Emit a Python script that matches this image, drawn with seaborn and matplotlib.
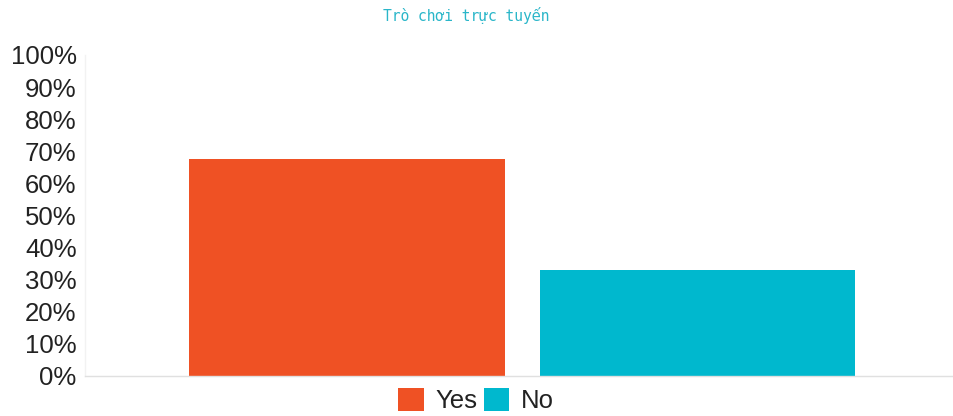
import matplotlib
matplotlib.use("Agg")
import matplotlib.pyplot as plt
import seaborn as sns
import pandas as pd
from matplotlib.ticker import PercentFormatter

# Survey answers for the online-games question
categories = ["Trò chơi trực tuyến"]
answers = ["Yes", "No"]
shares = [67.7, 33.0]
colors = ["#EF5124", "#00B8CE"]
y_ticks = list(range(0, 101, 10))

df = pd.DataFrame({"q": categories * len(answers), "answer": answers, "share": shares})

sns.set_theme(style="white")
plt.rcParams["font.family"] = ["Liberation Sans", "DejaVu Sans"]

fig = plt.figure(figsize=(9.54, 4.16), dpi=100)
ax = fig.add_axes([0.0891, 0.0962, 0.9099, 0.7716])

sns.barplot(data=df, x="q", y="share", hue="answer", hue_order=answers,
            palette=colors, width=0.807, gap=0.1, ax=ax, legend=False,
            saturation=1, linewidth=0)

ax.set_xlim(-0.5035, 0.4965)
ax.set_ylim(0, 100)
ax.set_yticks(y_ticks)
ax.yaxis.set_major_formatter(PercentFormatter(decimals=0))
ax.tick_params(axis="y", labelsize=18.5, colors="#222222", length=0, pad=6)
ax.set_xticks([])
ax.set_xlabel("")
ax.set_ylabel("")

for side in ["top", "right"]:
    ax.spines[side].set_visible(False)
ax.spines["left"].set_color("#f2f2f2")
ax.spines["bottom"].set_color("#e0e0e0")
ax.spines["left"].set_linewidth(1)
ax.spines["bottom"].set_linewidth(1)

fig.text(0.489, 0.963, categories[0], ha="center", va="center",
         family=["DejaVu Sans Mono", "DejaVu Sans"], fontsize=10.5,
         color="#2AB6C9")

handles = [plt.Rectangle((0, 0), 1, 1, facecolor=c, edgecolor="none") for c in colors]
fig.legend(handles, answers, loc="center", bbox_to_anchor=(0.499, 0.038),
           ncol=2, frameon=False, fontsize=18.5, handlelength=1.0,
           handleheight=1.0, handletextpad=0.45, columnspacing=0.25,
           labelcolor="#222222")

fig.savefig("out.png", dpi=100)
